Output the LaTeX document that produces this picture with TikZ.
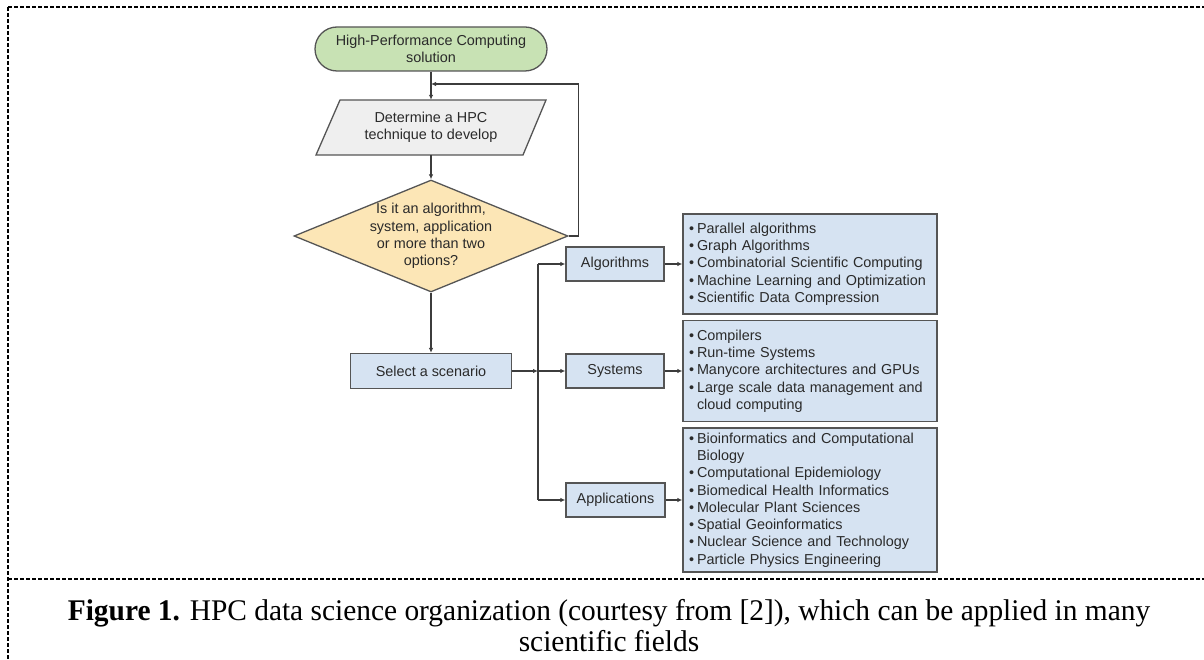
\documentclass[tikz,border=0pt]{standalone}
\usepackage{fontspec}
\setmainfont{Liberation Serif}
\newfontfamily\arialf{Liberation Sans}
\usetikzlibrary{shapes.geometric,arrows.meta}
\definecolor{termgreen}{HTML}{C8E2B4}
\definecolor{paragray}{HTML}{EFEFEF}
\definecolor{diayellow}{HTML}{FCE6B6}
\definecolor{boxblue}{HTML}{D6E3F2}
\definecolor{edgegray}{HTML}{3C3C3C}
\definecolor{bordergray}{HTML}{555555}
\definecolor{txtgray}{HTML}{2A2A2A}
\newcommand{\bul}{\makebox[8pt][l]{•}}
\begin{document}
\begin{tikzpicture}[x=1pt,y=-1pt,
  flowfont/.style={font=\arialf\fontsize{14.4}{17.3}\selectfont, text=txtgray},
  framedash/.style={line width=1.6pt, dash pattern=on 4pt off 2pt, black},
  shapeline/.style={draw=bordergray, line width=1.3pt},
  term/.style={shapeline, fill=termgreen, rounded corners=22pt, minimum width=232pt, minimum height=44pt, inner sep=0pt, flowfont, align=center},
  txtonly/.style={flowfont, align=center, inner sep=0pt},
  dia/.style={shapeline, fill=diayellow, diamond, minimum width=274pt, minimum height=112pt, inner sep=0pt},
  bluebox/.style={shapeline, fill=boxblue, inner sep=0pt, flowfont, align=center},
  listbox/.style={shapeline, fill=boxblue, minimum width=254pt, inner xsep=6pt, inner ysep=0pt, text width=242pt, flowfont, align=left},
  arr/.style={draw=edgegray, line width=1.2pt, -{Latex[length=5pt,width=4.5pt]}},
  plain/.style={draw=edgegray, line width=1.2pt},
  captxt/.style={font=\fontsize{30}{34}\selectfont, inner sep=0pt, anchor=base}
]
\useasboundingbox (0,0) rectangle (1204,660);
% frame
\draw[framedash] (8,7) -- (1204,7);
\draw[framedash] (8,7) -- (8,660);
\draw[framedash] (8,579) -- (1204,579);

% flowchart nodes
\node[term] (start) at (431,49) {High-Performance Computing\\solution};
\draw[shapeline, fill=paragray] (340,100) -- (546,100) -- (523,155) -- (316,155) -- cycle;
\node[txtonly, minimum width=206pt, minimum height=55pt] (det) at (431,127.5) {Determine a HPC\\technique to develop};
\node[dia] (q) at (431,236) {};
\node[txtonly] (qt) at (q.center) {Is it an algorithm,\\system, application\\or more than two\\options?};
\node[bluebox, minimum width=161pt, minimum height=35pt] (sel) at (431,371) {Select a scenario};
\node[bluebox, minimum width=98pt, minimum height=34pt] (alg) at (615,264) {Algorithms};
\node[bluebox, minimum width=98pt, minimum height=34pt] (sys) at (615,371) {Systems};
\node[bluebox, minimum width=99pt, minimum height=34pt] (app) at (615.5,500) {Applications};

\node[listbox, minimum height=100pt] (l1) at (810,264) {\bul Parallel algorithms\\\bul Graph Algorithms\\\bul Combinatorial Scientific Computing\\\bul Machine Learning and Optimization\\\bul Scientific Data Compression};
\node[listbox, minimum height=101pt] (l2) at (810,371) {\bul Compilers\\\bul Run-time Systems\\\bul Manycore architectures and GPUs\\\bul Large scale data management and\\\hspace*{8pt}cloud computing};
\node[listbox, minimum height=144pt] (l3) at (810,500) {\bul Bioinformatics and Computational\\\hspace*{8pt}Biology\\\bul Computational Epidemiology\\\bul Biomedical Health Informatics\\\bul Molecular Plant Sciences\\\bul Spatial Geoinformatics\\\bul Nuclear Science and Technology\\\bul Particle Physics Engineering};

% connectors
\coordinate (loopin) at (431,84);
\coordinate (jn) at (538,371);
\draw[arr] (start.south) -- (det.north);
\draw[arr] (det.south) -- (q.north);
\draw[arr] (q.south) -- (sel.north);
\draw[arr] (q.east) -- ++(10,0) |- (loopin);
\draw[arr] (sel.east) -- (jn);
\draw[arr] (jn) -- (sys.west);
\draw[plain] (jn |- alg.west) -- (jn |- app.west);
\draw[arr] (jn |- alg.west) -- (alg.west);
\draw[arr] (jn |- app.west) -- (app.west);
\draw[arr] (alg.east) -- (l1.west);
\draw[arr] (sys.east) -- (l2.west);
\draw[arr] (app.east) -- (l3.west);

% caption
\node[captxt] (cap1) at (609,620) {\scalebox{0.98}[1]{\textbf{Figure 1.} HPC data science organization (courtesy from [2]), which can be applied in many}};
\node[captxt] (cap2) at (609,651) {\scalebox{0.98}[1]{scientific fields}};
\end{tikzpicture}
\end{document}
